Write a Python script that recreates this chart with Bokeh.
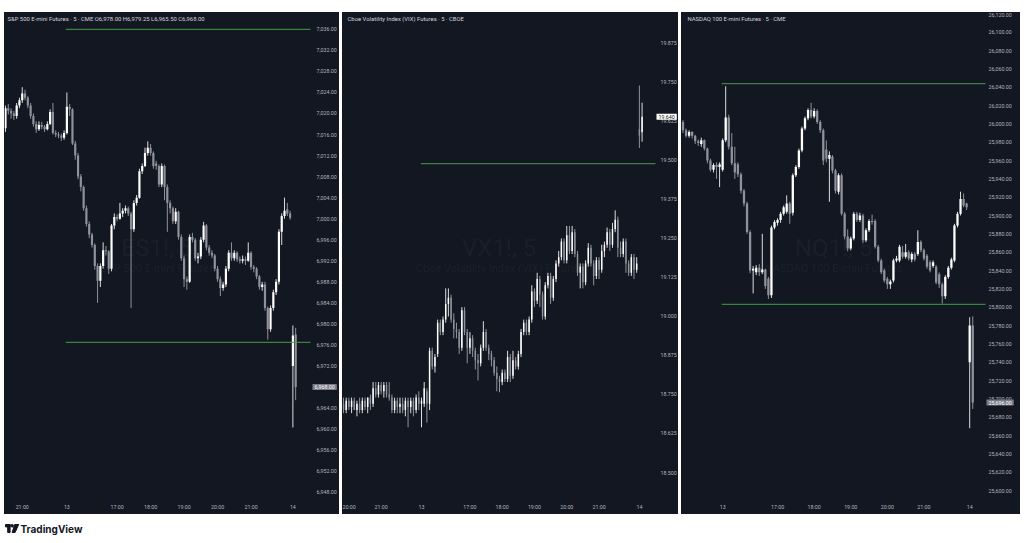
from bokeh.plotting import figure
from bokeh.layouts import row, column
from bokeh.models import Range1d, FixedTicker, NumeralTickFormatter, Label, ColumnDataSource, Spacer
from bokeh.embed import file_html
from bokeh.resources import INLINE

# ---------------- S&P 500 E-mini (ES1!, 5) ----------------
es_open = [7017.2, 7021, 7020.5, 7020, 7019.5, 7021.5, 7022.5, 7023.8, 7023, 7021.5,
           7019.5, 7018, 7017, 7017.8, 7017.5, 7017, 7018, 7020.3, 7016.3, 7016,
           7015.8, 7015.4, 7016.3, 7021.3, 7020.8, 7014.3, 7012, 7008, 7006, 7002,
           6999, 6997, 6995, 6991, 6988.2, 6991, 6994, 6993.8, 6990.5, 6998.7,
           7000.3, 7000, 7001, 7001.5, 7002, 7001, 6998, 7003, 7004, 7009,
           7010, 7012.5, 7013.5, 7012.5, 7010.5, 7010, 7006.5, 7010, 7006, 7003,
           7002, 6999.5, 7001.3, 6996.5, 6992.5, 6988.5, 6988, 6996.5, 6996, 6992.5,
           6992.8, 6996, 6998.7, 6994.5, 6993.5, 6993, 6990.5, 6988.5, 6986.8, 6987.5,
           6990.5, 6993.5, 6992.5, 6993.5, 6992.3, 6992, 6992.3, 6992, 6993.5, 6990.8,
           6990.5, 6989, 6987, 6987.5, 6983, 6979, 6983, 6986, 6988, 6997.5,
           7000.5, 7001.8, 7001, 6972, 6978]
es_high = [7021.5, 7021.8, 7021, 7020.5, 7022, 7023, 7025, 7024.5, 7023.3, 7022,
           7020, 7018.5, 7018.5, 7018.4, 7017.8, 7018.5, 7020.8, 7022, 7016.8, 7016.5,
           7016.2, 7016.8, 7024, 7021.8, 7021, 7014.8, 7012.5, 7008.5, 7006.3, 7002.5,
           6999.5, 6997.3, 6995.3, 6991.5, 6991.5, 6995.5, 6994.8, 6994, 6999, 7001,
           7000.8, 7003, 7002, 7002.5, 7002.3, 7001.3, 7003.5, 7004.5, 7009.5, 7010.5,
           7013.5, 7014.7, 7014.2, 7012.8, 7011, 7010.3, 7010.5, 7010.3, 7006.5, 7003.5,
           7002.3, 7002, 7001.5, 6997, 6993, 6989, 6997, 6997.3, 6996.3, 6993.5,
           6996.5, 6999.4, 6999, 6995, 6994, 6993.3, 6991, 6989, 6988, 6991,
           6994, 6995.5, 6994, 6993.8, 6992.8, 6993, 6992.8, 6995.5, 6993.8, 6991.2,
           6990.8, 6989.3, 6988, 6988, 6983.3, 6983.5, 6986.5, 6988.5, 6998, 7001,
           7004, 7003, 7001.5, 6979.7, 6979.25]
es_low = [7016.5, 7019.8, 7019, 7018.8, 7019, 7021, 7022, 7022.5, 7021, 7019,
          7017.5, 7016.3, 7016.7, 7017, 7016.5, 7016.8, 7017.8, 7016, 7015.5, 7015.3,
          7014.8, 7015, 7016, 7019.5, 7014, 7011.2, 7007.5, 7005.2, 7001.5, 6998.5,
          6996.3, 6994.5, 6990.3, 6984, 6987, 6990.5, 6993, 6989.5, 6990, 6998,
          6999.5, 6999.8, 7000.3, 7001, 7000.5, 6983, 6997.5, 7002.5, 7003.8, 7008.5,
          7009.8, 7012, 7012, 7009.5, 7009.3, 7006, 7006, 7003.5, 6997.5, 7001,
          6999, 6999, 6996, 6992, 6987, 6986.5, 6987.8, 6995.5, 6992, 6991.5,
          6992.3, 6995.5, 6994, 6993, 6992.5, 6990, 6988, 6985.3, 6986.3, 6987,
          6990, 6992, 6992, 6991.8, 6991.5, 6991.5, 6991.2, 6991.8, 6990.3, 6989.8,
          6988.5, 6986.5, 6986.3, 6982.5, 6977, 6978.5, 6982.5, 6985.5, 6987.5, 6995,
          7000, 7000.5, 6999.8, 6960.3, 6965.5]
es_close = [7021, 7020.5, 7020, 7019.5, 7021.5, 7022.5, 7023.8, 7023, 7021.5, 7019.5,
            7018, 7017, 7017.8, 7017.5, 7017, 7018, 7020.3, 7016.3, 7016, 7015.8,
            7015.4, 7016.3, 7021.3, 7020.8, 7014.3, 7012, 7008, 7006, 7002, 6999,
            6997, 6995, 6991, 6988.2, 6991, 6994, 6993.8, 6990.5, 6998.7, 7000.3,
            7000, 7001, 7001.5, 7002, 7001, 6998, 7003, 7004, 7009, 7010,
            7012.5, 7013.5, 7012.5, 7010, 7010, 7006.5, 7010, 7006, 7003, 7002,
            6999.5, 7001.3, 6996.5, 6992.5, 6988.5, 6988, 6996.5, 6996, 6992.5, 6992.8,
            6996, 6998.7, 6994.5, 6993.5, 6993, 6990.5, 6988.5, 6986.8, 6987.5, 6990.5,
            6993.5, 6992.5, 6993.5, 6992.3, 6992, 6992.3, 6992, 6993.5, 6990.8, 6990.5,
            6989, 6987, 6987.5, 6983, 6979, 6983, 6986, 6988, 6997.5, 7000.5,
            7001.5, 7001, 7000.2, 6977.8, 6968]
es_time_ticks = [6, 22, 40, 52, 64, 76, 88, 103]
es_time_labels = ["21:00", "13", "17:00", "18:00", "19:00", "20:00", "21:00", "14"]
es_price_ticks = [6948, 6952, 6956, 6960, 6964, 6968, 6972, 6976, 6980, 6984, 6988, 6992,
                  6996, 7000, 7004, 7008, 7012, 7016, 7020, 7024, 7028, 7032, 7036]
es_levels = [7036.0, 6976.5]
es_title = "S&P 500 E-mini Futures · 5 · CME   O6,978.00  H6,979.25  L6,965.50  C6,968.00"
es_symbol = "ES1!, 5"
es_desc = "S&P 500 E-mini Futures"

# ---------------- Cboe VIX Futures (VX1!, 5) ----------------
vx_open = [18.72, 18.70, 18.73, 18.71, 18.73, 18.70, 18.72, 18.70, 18.73, 18.71,
           18.74, 18.72, 18.77, 18.75, 18.78, 18.76, 18.78, 18.75, 18.74, 18.70,
           18.73, 18.71, 18.72, 18.70, 18.73, 18.71, 18.73, 18.70, 18.74, 18.72,
           18.72, 18.76, 18.72, 18.89, 18.84, 18.88, 18.98, 18.95, 18.99, 19.04,
           19.06, 18.99, 18.96, 18.95, 18.90, 19.02, 18.95, 18.90, 18.93, 18.89,
           18.86, 18.85, 18.90, 18.95, 18.90, 18.88, 18.86, 18.82, 18.80, 18.79,
           18.82, 18.80, 18.87, 18.81, 18.86, 18.84, 18.88, 18.95, 18.98, 18.95,
           18.99, 19.08, 19.05, 19.12, 19.07, 19.00, 19.10, 19.13, 19.06, 19.12,
           19.17, 19.19, 19.24, 19.18, 19.26, 19.21, 19.27, 19.20, 19.14, 19.16,
           19.11, 19.17, 19.22, 19.17, 19.13, 19.18, 19.15, 19.21, 19.23, 19.27,
           19.23, 19.28, 19.31, 19.22, 19.20, 19.24, 19.17, 19.14, 19.19, 19.15,
           19.60, 19.59]
vx_high = [18.74, 18.74, 18.74, 18.74, 18.74, 18.73, 18.74, 18.74, 18.74, 18.74,
           18.75, 18.79, 18.79, 18.79, 18.79, 18.79, 18.79, 18.79, 18.75, 18.74,
           18.74, 18.74, 18.74, 18.74, 18.74, 18.74, 18.74, 18.75, 18.76, 18.74,
           18.79, 18.77, 18.90, 18.90, 18.88, 18.99, 18.99, 19.00, 19.09, 19.09,
           19.07, 19.01, 18.98, 18.96, 19.03, 19.03, 18.96, 18.95, 18.94, 18.90,
           18.88, 18.91, 18.985, 18.96, 18.91, 18.89, 18.87, 18.84, 18.81, 18.83,
           18.83, 18.89, 18.88, 18.89, 18.87, 18.89, 18.96, 18.99, 18.99, 19.00,
           19.10, 19.09, 19.14, 19.13, 19.08, 19.11, 19.14, 19.14, 19.13, 19.18,
           19.21, 19.25, 19.25, 19.29, 19.29, 19.29, 19.28, 19.21, 19.17, 19.17,
           19.18, 19.235, 19.23, 19.18, 19.19, 19.19, 19.23, 19.24, 19.285, 19.28,
           19.30, 19.34, 19.32, 19.24, 19.25, 19.25, 19.18, 19.20, 19.20, 19.19,
           19.74, 19.685]
vx_low = [18.69, 18.69, 18.70, 18.69, 18.70, 18.68, 18.69, 18.69, 18.70, 18.69,
          18.70, 18.71, 18.74, 18.74, 18.75, 18.74, 18.74, 18.73, 18.69, 18.69,
          18.69, 18.69, 18.69, 18.68, 18.645, 18.69, 18.68, 18.69, 18.70, 18.645,
          18.71, 18.66, 18.70, 18.83, 18.82, 18.87, 18.94, 18.94, 18.98, 19.00,
          18.98, 18.93, 18.93, 18.88, 18.89, 18.94, 18.85, 18.88, 18.87, 18.83,
          18.795, 18.84, 18.89, 18.89, 18.86, 18.84, 18.81, 18.76, 18.757, 18.78,
          18.79, 18.79, 18.79, 18.80, 18.83, 18.83, 18.87, 18.94, 18.94, 18.94,
          18.98, 19.03, 19.04, 19.03, 18.99, 18.99, 19.09, 19.04, 19.05, 19.11,
          19.16, 19.18, 19.17, 19.17, 19.20, 19.20, 19.19, 19.13, 19.09, 19.09,
          19.10, 19.16, 19.16, 19.10, 19.12, 19.12, 19.14, 19.19, 19.22, 19.21,
          19.22, 19.27, 19.19, 19.19, 19.19, 19.14, 19.13, 19.13, 19.12, 19.14,
          19.54, 19.56]
vx_close = [18.70, 18.73, 18.71, 18.73, 18.70, 18.72, 18.70, 18.73, 18.71, 18.74,
            18.72, 18.77, 18.75, 18.78, 18.76, 18.78, 18.75, 18.74, 18.70, 18.73,
            18.71, 18.72, 18.70, 18.73, 18.71, 18.73, 18.70, 18.74, 18.72, 18.73,
            18.77, 18.72, 18.89, 18.84, 18.87, 18.98, 18.95, 18.99, 19.04, 19.06,
            18.99, 18.96, 18.95, 18.90, 19.02, 18.95, 18.90, 18.93, 18.89, 18.86,
            18.85, 18.90, 18.95, 18.90, 18.88, 18.86, 18.82, 18.80, 18.79, 18.82,
            18.80, 18.87, 18.81, 18.86, 18.84, 18.88, 18.95, 18.98, 18.95, 18.99,
            19.08, 19.05, 19.12, 19.07, 19.00, 19.10, 19.13, 19.06, 19.12, 19.17,
            19.19, 19.24, 19.18, 19.26, 19.21, 19.27, 19.20, 19.14, 19.16, 19.11,
            19.17, 19.22, 19.17, 19.13, 19.18, 19.15, 19.21, 19.23, 19.27, 19.23,
            19.28, 19.31, 19.22, 19.20, 19.24, 19.17, 19.14, 19.19, 19.15, 19.17,
            19.58, 19.64]
vx_time_ticks = [2, 14, 29, 47, 59, 71, 83, 95, 110]
vx_time_labels = ["20:00", "21:00", "13", "17:00", "18:00", "19:00", "20:00", "21:00", "14"]
vx_price_ticks = [18.5, 18.625, 18.75, 18.875, 19.0, 19.125, 19.25, 19.375, 19.5,
                  19.625, 19.75, 19.875]
vx_levels = [19.49]
vx_title = "Cboe Volatility Index (VIX) Futures · 5 · CBOE"
vx_symbol = "VX1!, 5"
vx_desc = "Cboe Volatility Index (VIX) Futures"

# ---------------- NASDAQ 100 E-mini (NQ1!, 5) ----------------
nq_open = [26002, 25993, 25987, 25991, 25987, 25981, 25978, 25982, 25973, 25960,
           25950, 25955, 25953, 25950, 25982, 26007, 25975, 25957, 25956, 25945,
           25927, 25913, 25882, 25840, 25838, 25843, 25838, 25841, 25831, 25813,
           25887, 25892, 25895, 25902, 25904, 25913, 25903, 25944, 25953, 25971,
           25995, 26006, 26015, 26008, 26014, 26002, 25993, 25972, 25962, 25964,
           25949, 25926, 25944, 25902, 25877, 25864, 25875, 25902, 25895, 25900,
           25873, 25884, 25894, 25894, 25866, 25851, 25840, 25831, 25825, 25829,
           25851, 25851, 25860, 25855, 25860, 25852, 25858, 25858, 25871, 25862,
           25856, 25849, 25845, 25844, 25836, 25825, 25812, 25833, 25843, 25851,
           25889, 25902, 25918, 25913, 25740, 25780]
nq_high = [26004, 25995, 25993, 25992, 25988, 25983, 25985, 25983, 25974, 25962,
           25957, 25958, 25958, 25984, 26041, 26010, 25990, 25975, 25958, 25947,
           25929, 25915, 25884, 25845, 25846, 25847, 25880, 25842, 25833, 25889,
           25895, 25897, 25904, 25911, 25922, 25915, 25946, 25955, 25973, 25997,
           26008, 26017, 26023, 26017, 26016, 26004, 25995, 25982, 25970, 25966,
           25951, 25946, 25946, 25904, 25885, 25877, 25904, 25904, 25903, 25902,
           25886, 25896, 25901, 25896, 25868, 25853, 25842, 25833, 25830, 25853,
           25856, 25868, 25867, 25869, 25862, 25860, 25860, 25884, 25873, 25864,
           25858, 25851, 25851, 25846, 25838, 25827, 25835, 25845, 25854, 25891,
           25904, 25926, 25924, 25914, 25789, 25790]
nq_low = [25990, 25985, 25985, 25984, 25978, 25976, 25975, 25971, 25957, 25948,
          25947, 25940, 25931, 25948, 25980, 25972, 25955, 25940, 25942, 25924,
          25910, 25880, 25837, 25815, 25835, 25834, 25836, 25820, 25809, 25810,
          25885, 25889, 25892, 25900, 25902, 25891, 25900, 25942, 25951, 25969,
          25993, 26004, 26006, 26006, 26000, 25990, 25955, 25958, 25915, 25946,
          25924, 25923, 25900, 25874, 25861, 25862, 25873, 25893, 25893, 25870,
          25871, 25882, 25890, 25864, 25849, 25836, 25827, 25820, 25820, 25827,
          25849, 25849, 25853, 25853, 25851, 25849, 25850, 25856, 25860, 25851,
          25842, 25838, 25843, 25825, 25821, 25804, 25809, 25831, 25841, 25849,
          25887, 25900, 25909, 25906, 25668, 25689]
nq_close = [25993, 25987, 25991, 25987, 25981, 25979, 25982, 25973, 25960, 25950,
            25955, 25953, 25956, 25982, 26007, 25975, 25957, 25947, 25945, 25927,
            25913, 25882, 25840, 25842, 25843, 25838, 25841, 25823, 25813, 25887,
            25893, 25895, 25902, 25909, 25913, 25902, 25944, 25953, 25971, 25995,
            26006, 26015, 26008, 26014, 26002, 25993, 25960, 25962, 25966, 25949,
            25927, 25944, 25902, 25877, 25864, 25875, 25902, 25895, 25900, 25873,
            25884, 25894, 25893, 25866, 25851, 25838, 25829, 25825, 25828, 25851,
            25853, 25866, 25855, 25860, 25853, 25858, 25852, 25871, 25862, 25853,
            25844, 25840, 25849, 25827, 25825, 25812, 25833, 25843, 25852, 25889,
            25902, 25918, 25911, 25909, 25780, 25696]
nq_time_ticks = [13, 31, 43, 55, 67, 79, 94]
nq_time_labels = ["13", "17:00", "18:00", "19:00", "20:00", "21:00", "14"]
nq_price_ticks = [25600, 25620, 25640, 25660, 25680, 25700, 25720, 25740, 25760, 25780,
                  25800, 25820, 25840, 25860, 25880, 25900, 25920, 25940, 25960, 25980,
                  26000, 26020, 26040, 26060, 26080, 26100, 26120]
nq_levels = [26044.0, 25803.0]
nq_title = "NASDAQ 100 E-mini Futures · 5 · CME"
nq_symbol = "NQ1!, 5"
nq_desc = "NASDAQ 100 E-mini Futures"

# ---------------- styling ----------------
BG = "#131722"
UP = "#ffffff"
DOWN = "#8f929a"
UP_WICK = "#dcdcdc"
DOWN_WICK = "#8f929a"
AXIS_TXT = "#b2b5be"
LEVEL = "#43a047"
FONT = "Roboto"
FRAME_TOP = 12
FRAME_H = 486
FIG_H = 502


def make_panel(o, h, l, c, time_ticks, time_labels, price_ticks, price_fmt, last_fmt,
               levels, level_start, title, symbol, desc,
               width, x0, x1, axis_x, y0, y1, body_w, standoff, title_dx,
               last_bg, last_fg, last_dx):
    # frame spans the whole panel; the price scale is pinned at axis_x inside it
    p = figure(width=width, height=FIG_H, x_range=Range1d(x0, x1), y_range=Range1d(y0, y1),
               output_backend="svg", toolbar_location=None, y_axis_location="right",
               min_border_left=0, min_border_right=0, min_border_top=0,
               min_border_bottom=FIG_H - FRAME_H,
               background_fill_color=BG, border_fill_color=BG, outline_line_color=None,
               styles={"background-color": BG})
    p.grid.visible = False
    ppu = FRAME_H / (y1 - y0)
    spb = width / (x1 - x0)

    def ypx(px):
        return y1 - (px - FRAME_TOP) / ppu

    xm = (x0 + axis_x) / 2.0
    p.add_layout(Label(x=xm, y=ypx(247), text=symbol, text_align="center", text_baseline="middle",
                       text_font=FONT, text_font_size="24px", text_color="#ffffff",
                       text_alpha=0.05, level="underlay"))
    p.add_layout(Label(x=xm, y=ypx(268), text=desc, text_align="center", text_baseline="middle",
                       text_font=FONT, text_font_size="11px", text_color="#ffffff",
                       text_alpha=0.05, level="underlay"))

    idx = list(range(len(o)))
    body_col = [UP if cc >= oo else DOWN for oo, cc in zip(o, c)]
    wick_col = [UP_WICK if cc >= oo else DOWN_WICK for oo, cc in zip(o, c)]
    src = ColumnDataSource(dict(x=idx, lo=l, hi=h,
                                top=[max(a, b) for a, b in zip(o, c)],
                                bot=[min(a, b) for a, b in zip(o, c)],
                                body_color=body_col, wick_color=wick_col))
    p.segment(x0="x", y0="lo", x1="x", y1="hi", line_color="wick_color", line_width=1, source=src)
    p.vbar(x="x", width=body_w, top="top", bottom="bot", fill_color="body_color",
           line_color=None, source=src)

    for lv in levels:
        p.segment(x0=[level_start], y0=[lv], x1=[axis_x], y1=[lv], line_color=LEVEL,
                  line_width=1.2, line_alpha=0.8)

    p.xaxis.ticker = FixedTicker(ticks=time_ticks)
    p.xaxis.major_label_overrides = {t: s for t, s in zip(time_ticks, time_labels)}
    p.yaxis.ticker = FixedTicker(ticks=price_ticks)
    p.yaxis.formatter = NumeralTickFormatter(format=price_fmt)
    p.yaxis.fixed_location = axis_x
    for ax in (p.xaxis, p.yaxis):
        ax.axis_line_color = None
        ax.major_tick_line_color = None
        ax.minor_tick_line_color = None
        ax.major_tick_out = 0
        ax.major_tick_in = 0
        ax.major_label_text_color = AXIS_TXT
        ax.major_label_text_font = FONT
        ax.major_label_text_font_size = "5.3px"
    p.xaxis.major_label_standoff = 5
    p.yaxis.major_label_standoff = standoff

    p.add_layout(Label(x=x0 + title_dx / spb, y=ypx(18), text=title, text_align="left",
                       text_baseline="middle", text_font=FONT, text_font_size="5.9px",
                       text_color="#d1d4dc"))
    p.add_layout(Label(x=axis_x, y=c[-1], x_offset=last_dx, text=last_fmt.format(c[-1]),
                       text_align="left", text_baseline="middle", text_font=FONT,
                       text_font_size="5.3px", text_color=last_fg, level="overlay",
                       background_fill_color=last_bg, padding=(2, 1)))
    return p


p1 = make_panel(es_open, es_high, es_low, es_close, es_time_ticks, es_time_labels,
                es_price_ticks, "0,0.00", "{:,.2f}", es_levels, 21.6,
                es_title, es_symbol, es_desc,
                width=335, x0=-0.358, x1=119.71, axis_x=109.3, y0=6946.8, y1=7039.2,
                body_w=0.78, standoff=6, title_dx=3, last_bg="#787b86", last_fg="#ffffff",
                last_dx=2)
p2 = make_panel(vx_open, vx_high, vx_low, vx_close, vx_time_ticks, vx_time_labels,
                vx_price_ticks, "0.000", "{:.3f}", vx_levels, 28.8,
                vx_title, vx_symbol, vx_desc,
                width=336, x0=-0.37, x1=124.54, axis_x=115.99, y0=18.4167, y1=19.974,
                body_w=0.55, standoff=5, title_dx=5, last_bg="#ffffff", last_fg="#131722",
                last_dx=1)
p3 = make_panel(nq_open, nq_high, nq_low, nq_close, nq_time_ticks, nq_time_labels,
                nq_price_ticks, "0,0.00", "{:,.2f}", nq_levels, 12.7,
                nq_title, nq_symbol, nq_desc,
                width=339, x0=-0.49, x1=110.66, axis_x=99.18, y0=25591.3, y1=26121.5,
                body_w=0.75, standoff=3, title_dx=6, last_bg="#787b86", last_fg="#ffffff",
                last_dx=1)

# TradingView brand line
lg = figure(width=130, height=24, x_range=Range1d(0, 130), y_range=Range1d(0, 24),
            output_backend="svg", toolbar_location=None, min_border=0,
            x_axis_location=None, y_axis_location=None, outline_line_color=None,
            background_fill_color="#ffffff", border_fill_color="#ffffff")
lg.grid.visible = False
lg.quad(left=[5, 7.2], right=[9.6, 9.6], top=[14, 14], bottom=[11.6, 6], color="#131722")
lg.circle(x=[11.7], y=[12.7], radius=1.3, color="#131722")
lg.patch(x=[14.2, 18.2, 14.6, 11.6], y=[14, 14, 6, 6], color="#131722")
lg.add_layout(Label(x=20, y=10, text="TradingView", text_align="left", text_baseline="middle",
                    text_font="Inter", text_font_size="10px", text_font_style="bold",
                    text_color="#131722"))

panels = row(Spacer(width=4, height=FIG_H), p1, Spacer(width=3, height=FIG_H), p2,
             Spacer(width=3, height=FIG_H), p3)
layout = column(Spacer(width=10, height=12), panels, lg)

with open("out.html", "w", encoding="utf-8") as f:
    f.write(file_html(layout, INLINE))
